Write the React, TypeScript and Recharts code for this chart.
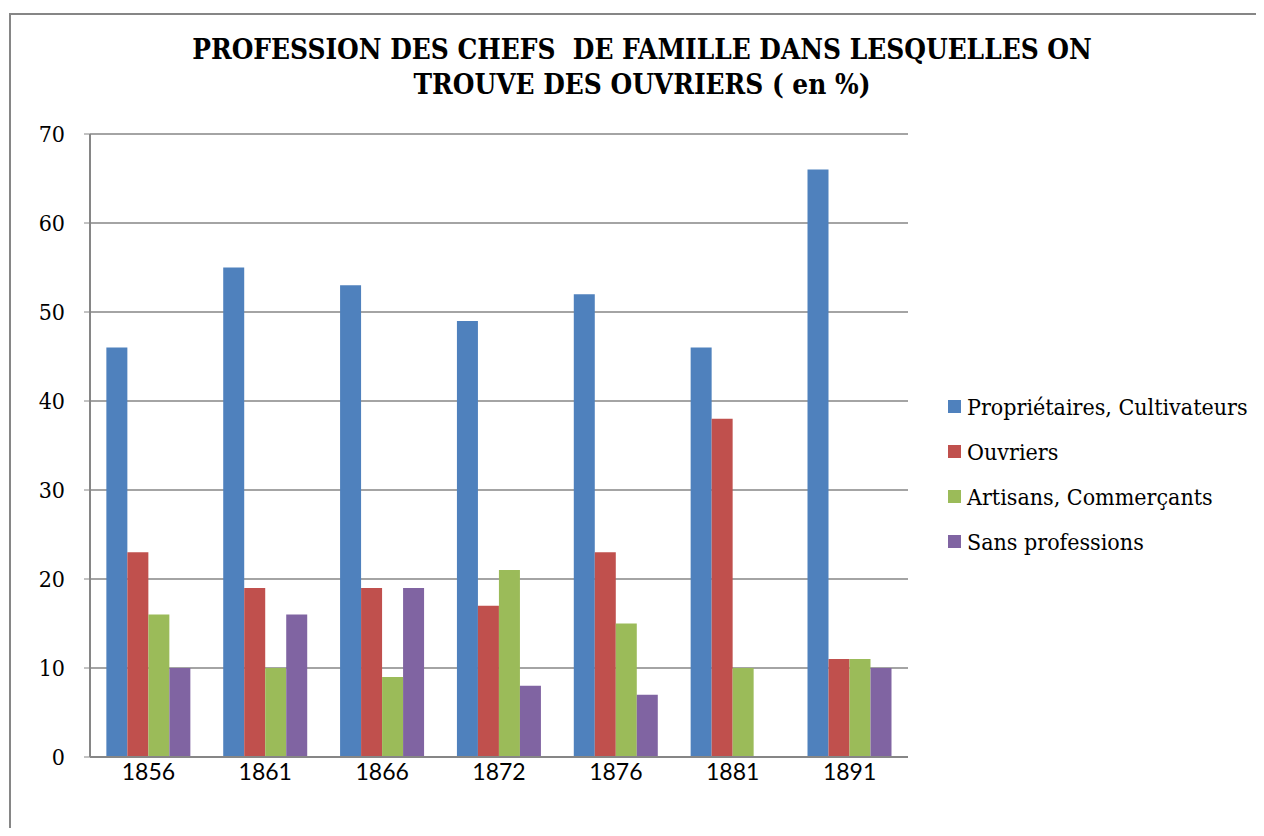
import React from "react";
import {
  BarChart,
  Bar,
  XAxis,
  YAxis,
  CartesianGrid,
  Legend,
} from "recharts";

const years = ["1856", "1861", "1866", "1872", "1876", "1881", "1891"];
const proprietaires = [46, 55, 53, 49, 52, 46, 66];
const ouvriers = [23, 19, 19, 17, 23, 38, 11];
const artisans = [16, 10, 9, 21, 15, 10, 11];
const sansProfession = [10, 16, 19, 8, 7, null, 10];
const yTicks = [0, 10, 20, 30, 40, 50, 60, 70];

const series = [
  { key: "prop", name: "Propriétaires, Cultivateurs", color: "#4F81BD", values: proprietaires },
  { key: "ouv", name: "Ouvriers", color: "#C0504D", values: ouvriers },
  { key: "art", name: "Artisans, Commerçants", color: "#9BBB59", values: artisans },
  { key: "sans", name: "Sans professions", color: "#8064A2", values: sansProfession },
];

const data = years.map((year, i) => {
  const row: Record<string, string | number | null> = { year };
  series.forEach((s) => {
    row[s.key] = s.values[i];
  });
  return row;
});

const serifCond = '"DejaVu Serif Condensed", "DejaVu Serif", serif';

const renderLegend = () => (
  <div style={{ fontFamily: serifCond, fontSize: 23, color: "#000", textAlign: "left" }}>
    {series.map((s) => (
      <div key={s.key} style={{ display: "flex", alignItems: "center", height: 45 }}>
        <span
          style={{
            display: "inline-block",
            width: 13,
            height: 13,
            background: s.color,
            marginRight: 6,
          }}
        />
        <span style={{ whiteSpace: "nowrap" }}>{s.name}</span>
      </div>
    ))}
  </div>
);

export default function App() {
  return (
    <div
      style={{
        position: "relative",
        width: 1248,
        height: 828,
        marginBottom: -8,
        overflow: "hidden",
      }}
    >
      <div
        style={{
          position: "absolute",
          left: 1,
          top: 5,
          right: 0,
          bottom: 0,
          borderTop: "2px solid #868686",
          borderLeft: "2px solid #868686",
        }}
      />
      <div
        style={{
          position: "absolute",
          left: 0,
          top: 24,
          width: 1268,
          textAlign: "center",
          fontFamily: serifCond,
          fontWeight: "bold",
          fontSize: 27.7,
          lineHeight: "35px",
          color: "#000",
          whiteSpace: "nowrap",
        }}
      >
        PROFESSION DES CHEFS&nbsp; DE FAMILLE DANS LESQUELLES ON
        <br />
        TROUVE DES OUVRIERS ( en %)
      </div>
      <BarChart
        width={1248}
        height={810}
        data={data}
        margin={{ top: 126, right: 348, bottom: 23, left: 22 }}
        barCategoryGap="14%"
        barGap={0}
      >
        <CartesianGrid vertical={false} stroke="#868686" strokeWidth={1.5} />
        <XAxis
          dataKey="year"
          axisLine={{ stroke: "#868686", strokeWidth: 2 }}
          tickLine={false}
          height={38}
          tick={{ fontFamily: "Lato, sans-serif", fontSize: 23, fill: "#000" }}
          tickMargin={1}
        />
        <YAxis
          domain={[0, 70]}
          ticks={yTicks}
          axisLine={{ stroke: "#868686", strokeWidth: 2 }}
          tickLine={{ stroke: "#868686" }}
          tickSize={6}
          width={60}
          tick={{ fontFamily: serifCond, fontSize: 23, fill: "#000" }}
          tickMargin={19}
        />
        <Legend
          layout="vertical"
          align="center"
          verticalAlign="middle"
          content={renderLegend}
          wrapperStyle={{ left: 940, top: 376, width: 308 }}
        />
        {series.map((s) => (
          <Bar
            key={s.key}
            dataKey={s.key}
            name={s.name}
            fill={s.color}
            isAnimationActive={false}
          />
        ))}
      </BarChart>
    </div>
  );
}
